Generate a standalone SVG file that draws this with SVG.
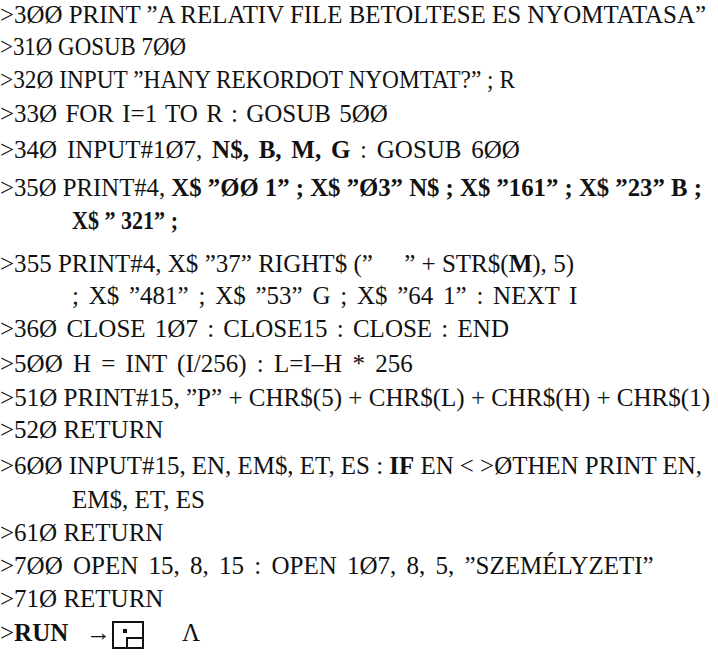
<svg xmlns="http://www.w3.org/2000/svg" width="718" height="665" viewBox="0 0 718 665">
<style>
text{font-family:"Liberation Serif","Times New Roman",serif;font-size:25px;fill:#111;}
.b{font-weight:bold;}
</style>
<rect width="718" height="665" fill="#fff"/>
<g id="listing">
<text x="0" y="23" textLength="706" lengthAdjust="spacingAndGlyphs">&gt;3ØØ PRINT ”A RELATIV FILE BETOLTESE ES NYOMTATASA”</text>
<text x="0" y="55" textLength="186" lengthAdjust="spacingAndGlyphs">&gt;31Ø GOSUB 7ØØ</text>
<text x="0" y="88" textLength="515" lengthAdjust="spacingAndGlyphs">&gt;32Ø INPUT ”HANY REKORDOT NYOMTAT?” ; R</text>
<text x="0" y="122" word-spacing="2">&gt;33Ø FOR I=1 TO R : GOSUB 5ØØ</text>
<text x="0" y="158" word-spacing="3.5">&gt;34Ø INPUT#1Ø7, <tspan class="b">N$, B, M, G</tspan> : GOSUB 6ØØ</text>
<text x="0" y="196" textLength="702" lengthAdjust="spacingAndGlyphs">&gt;35Ø PRINT#4, <tspan class="b">X$ ”ØØ 1” ; X$ ”Ø3” N$ ; X$ ”161” ; X$ ”23” B ;</tspan></text>
<text x="72" y="229" class="b" textLength="106" lengthAdjust="spacingAndGlyphs">X$ ” 321” ;</text>
<text x="0" y="272" textLength="574" lengthAdjust="spacingAndGlyphs">&gt;355 PRINT#4, X$ ”37” RIGHT$ (”&#160;&#160;&#160;&#160;&#160;” + STR$(<tspan class="b">M</tspan>), 5)</text>
<text x="72" y="304" word-spacing="3.5">; X$ ”481” ; X$ ”53” G ; X$ ”64 1” : NEXT I</text>
<text x="0" y="337" word-spacing="3">&gt;36Ø CLOSE 1Ø7 : CLOSE15 : CLOSE : END</text>
<text x="0" y="372" word-spacing="4">&gt;5ØØ H = INT (I/256) : L=I–H * 256</text>
<text x="0" y="406" textLength="710" lengthAdjust="spacingAndGlyphs">&gt;51Ø PRINT#15, ”P” + CHR$(5) + CHR$(L) + CHR$(H) + CHR$(1)</text>
<text x="0" y="438">&gt;52Ø RETURN</text>
<text x="0" y="474" textLength="702" lengthAdjust="spacingAndGlyphs">&gt;6ØØ INPUT#15, EN, EM$, ET, ES : <tspan class="b">IF</tspan> EN &lt; &gt;ØTHEN PRINT EN,</text>
<text x="72" y="508">EM$, ET, ES</text>
<text x="0" y="541">&gt;61Ø RETURN</text>
<text x="0" y="574" word-spacing="4">&gt;7ØØ OPEN 15, 8, 15 : OPEN 1Ø7, 8, 5, ”SZEMÉLYZETI”</text>
<text x="0" y="607">&gt;71Ø RETURN</text>
<text x="0" y="641">&gt;<tspan class="b">RUN</tspan></text>
<text x="86" y="641">→</text>
<text x="182" y="641">Λ</text>
</g>
<g id="cursor-box" fill="none" stroke="#111" stroke-width="2">
<rect x="113" y="622" width="30" height="26"/>
<path d="M127 648 V638 H143"/>
<rect x="123" y="629" width="4" height="4" fill="#111" stroke="none"/>
</g>
</svg>
